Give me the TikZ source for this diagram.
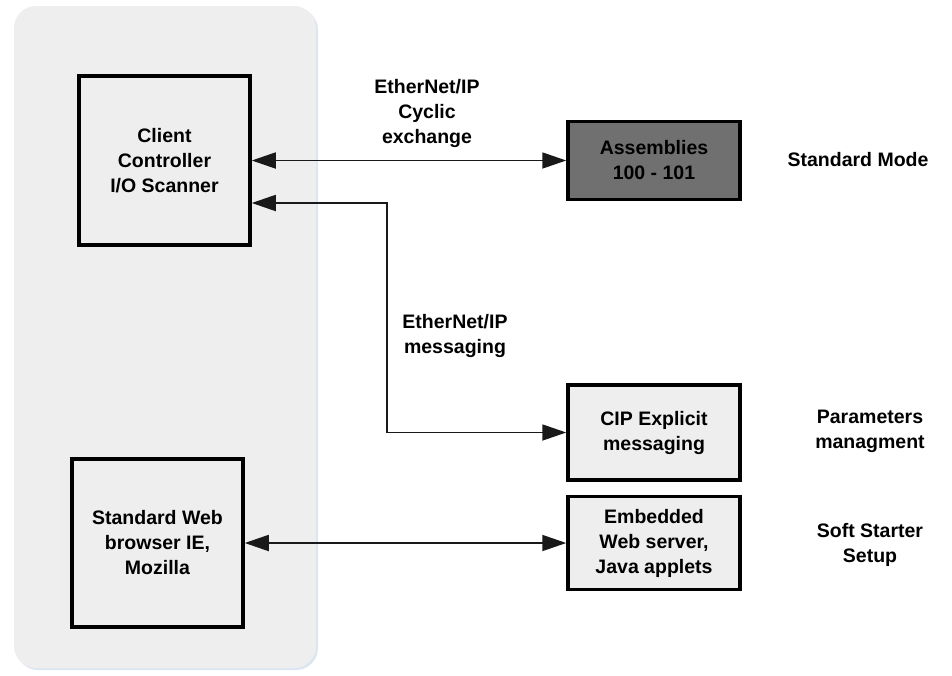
\documentclass[tikz,border=0pt]{standalone}
\usepackage{fontspec}
\setmainfont{Liberation Sans}
\usetikzlibrary{arrows.meta,calc}
\definecolor{panelgray}{HTML}{EEEEEE}
\definecolor{boxgray}{HTML}{EEEEEE}
\definecolor{darkbox}{HTML}{707070}
\definecolor{shadowblue}{HTML}{DCE6F2}
\begin{document}
\begin{tikzpicture}[x=1pt,y=-1pt,
  every node/.style={font=\fontsize{19.5}{25}\selectfont\bfseries, align=center, inner sep=0pt},
  blockbox/.style={draw=black, line width=3.5pt, fill=boxgray, minimum width=#1},
  blockbox/.default=171pt,
  dconn/.style={line width=1.8pt, draw=black!90, arrows={Triangle[length=24pt,width=16pt]-Triangle[length=24pt,width=16pt]}},
  lbl/.style={text=black}
]
\useasboundingbox (0,0) rectangle (952,675);
% panel
\fill[shadowblue, rounded corners=22pt] (16,8) rectangle (318,670);
\fill[panelgray, rounded corners=22pt] (14,6) rectangle (316,668);

% boxes
\node[blockbox=171pt, minimum height=169pt] (client) at (164.5,160.5) {Client\\Controller\\I/O Scanner};
\node[blockbox=171pt, minimum height=168pt] (web) at (157.5,543) {Standard Web\\browser IE,\\Mozilla};
\node[blockbox=172pt, minimum height=78pt, fill=darkbox] (asm) at (654,160.5) {Assemblies\\100 - 101};
\node[blockbox=172pt, minimum height=95pt] (cip) at (654,432.5) {CIP Explicit\\messaging};
\node[blockbox=172pt, minimum height=93pt] (emb) at (654,543) {Embedded\\Web server,\\Java applets};

% connectors
\draw[dconn] (client.east) -- (asm.west);
\draw[dconn] ($(client.east)+(0,42.5)$) coordinate (m0) -- ++(135,0) coordinate (m1) |- (cip.west);
\draw[dconn] (web.east) -- (emb.west);

% labels
\node[lbl] (lcyc) at (427,113) {EtherNet/IP\\Cyclic\\exchange};
\node[lbl] (lmsg) at (455,335.5) {EtherNet/IP\\messaging};
\node[lbl] (lstd) at (858,160) {Standard Mode};
\node[lbl] (lpar) at (870,431.5) {Parameters\\managment};
\node[lbl] (lsoft) at (870,545) {Soft Starter\\Setup};
\end{tikzpicture}
\end{document}
